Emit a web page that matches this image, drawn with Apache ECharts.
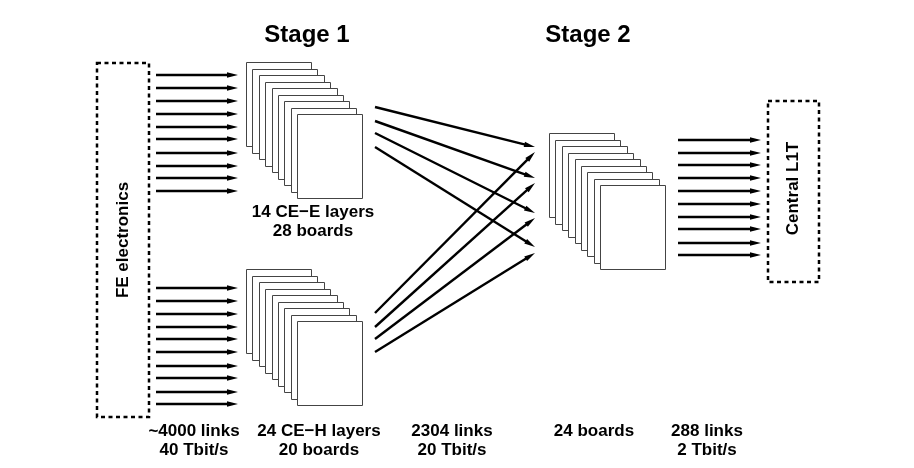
<!DOCTYPE html>
<html>
<head>
<meta charset="utf-8">
<script src="https://cdn.jsdelivr.net/npm/echarts@6/dist/echarts.min.js"></script>
<style>
  html, body { margin: 0; padding: 0; background: #fff; }
  #chart { width: 914px; height: 468px; }
</style>
</head>
<body>
<div id="chart"></div>
<script>
// diagram units: x 0..914 left to right, y 0..468 top to bottom
const feArrowX = [156, 238];
const feArrowY = [75, 88, 101, 114, 127, 139, 153, 166, 178, 191,
                  288, 301, 314, 327, 339, 352, 366, 378, 392, 404];
const l1tArrowX = [678, 761];
const l1tArrowY = [140, 153, 165, 178, 191, 204, 217, 229, 243, 255];

// stage 1 -> stage 2 links
const crossFrom = [[375, 107], [375, 121], [375, 133], [375, 147],
                   [375, 313], [375, 327], [375, 339], [375, 352]];
const crossTo = [[535, 147], [535, 178], [535, 213], [535, 247],
                 [535, 152], [535, 183], [535, 218], [535, 253]];

// board stacks: top-left corner of the rearmost board
const stackCorners = [[246, 62], [246, 269], [549, 133]];
const boardsPerStack = [9, 9, 9];

// dashed boxes: x1, y1, x2, y2
const boxes = [[97, 63, 149, 417], [768, 101, 819, 282]];
const boxNames = ['FE electronics', 'Central L1T'];

const titles = ['Stage 1', 'Stage 2'];
const titlePos = [[307, 35], [588, 35]];

const captions = ['14 CE\u2212E layers\n28 boards', '~4000 links\n40 Tbit/s',
                  '24 CE\u2212H layers\n20 boards', '2304 links\n20 Tbit/s',
                  '24 boards\n ', '288 links\n2 Tbit/s'];
const captionPos = [[313, 222], [194, 441], [319, 441], [452, 441], [594, 441], [707, 441]];

const FONT = '"Liberation Sans", Arial, Helvetica, sans-serif';

const arrows = [];
feArrowY.forEach(y => arrows.push([feArrowX[0], y, feArrowX[1], y]));
l1tArrowY.forEach(y => arrows.push([l1tArrowX[0], y, l1tArrowX[1], y]));
crossFrom.forEach((p, i) => arrows.push([p[0], p[1], crossTo[i][0], crossTo[i][1]]));

function renderArrow(params, api) {
  const a = api.coord([api.value(0), api.value(1)]);
  const b = api.coord([api.value(2), api.value(3)]);
  const ang = Math.atan2(b[1] - a[1], b[0] - a[0]);
  const len = 11, half = 2.7;
  const bx = b[0] - len * Math.cos(ang), by = b[1] - len * Math.sin(ang);
  const nx = -Math.sin(ang) * half, ny = Math.cos(ang) * half;
  return {
    type: 'group',
    children: [
      { type: 'line', shape: { x1: a[0], y1: a[1], x2: bx + Math.cos(ang), y2: by + Math.sin(ang) },
        style: { stroke: '#000', lineWidth: 2.4 } },
      { type: 'polygon', shape: { points: [[b[0], b[1]], [bx + nx, by + ny], [bx - nx, by - ny]] },
        style: { fill: '#000' } }
    ]
  };
}

function renderStack(params, api) {
  const n = api.value(2);
  const p0 = api.coord([api.value(0), api.value(1)]);
  const p1 = api.coord([api.value(0) + 65, api.value(1) + 84]);
  const w = p1[0] - p0[0], h = p1[1] - p0[1];
  const children = [];
  for (let i = 0; i < n; i++) {
    children.push({
      type: 'rect',
      shape: { x: Math.round(p0[0] + i * 6.4) + 0.5, y: Math.round(p0[1] + i * 6.5) + 0.5, width: w, height: h },
      style: { fill: '#fff', stroke: '#444', lineWidth: 1 }
    });
  }
  return { type: 'group', children: children };
}

function renderBox(params, api) {
  const p0 = api.coord([api.value(0), api.value(1)]);
  const p1 = api.coord([api.value(2), api.value(3)]);
  return {
    type: 'group',
    children: [
      { type: 'rect', shape: { x: p0[0], y: p0[1], width: p1[0] - p0[0], height: p1[1] - p0[1] },
        style: { fill: 'transparent', stroke: '#000', lineWidth: 2.5, lineDash: [4, 3.5] } },
      { type: 'text', x: (p0[0] + p1[0]) / 2, y: (p0[1] + p1[1]) / 2 + (params.dataIndex === 0 ? 0 : -3),
        rotation: Math.PI / 2,
        style: { text: boxNames[params.dataIndex], fill: '#000', fontSize: 17, fontWeight: 'bold',
                 fontFamily: FONT, align: 'center', verticalAlign: 'middle' } }
    ]
  };
}

function textRenderer(texts, size, lh) {
  return function (params, api) {
    const p = api.coord([api.value(0), api.value(1)]);
    return {
      type: 'text', x: p[0], y: p[1],
      style: { text: texts[params.dataIndex], fill: '#000', fontSize: size, fontWeight: 'bold',
               fontFamily: FONT, align: 'center', verticalAlign: 'middle', lineHeight: lh }
    };
  };
}

const chart = echarts.init(document.getElementById('chart'));
chart.setOption({
  animation: false,
  backgroundColor: '#fff',
  grid: { left: 0, right: 0, top: 0, bottom: 0 },
  xAxis: { type: 'value', min: 0, max: 914, show: false },
  yAxis: { type: 'value', min: 0, max: 468, inverse: true, show: false },
  series: [
    { type: 'custom', name: 'boxes', clip: false, renderItem: renderBox, data: boxes,
      encode: { x: [0, 2], y: [1, 3] } },
    { type: 'custom', name: 'boards', clip: false, renderItem: renderStack,
      data: stackCorners.map((c, i) => [c[0], c[1], boardsPerStack[i]]),
      encode: { x: 0, y: 1 } },
    { type: 'custom', name: 'links', clip: false, renderItem: renderArrow, data: arrows,
      encode: { x: [0, 2], y: [1, 3] } },
    { type: 'custom', name: 'titles', clip: false, renderItem: textRenderer(titles, 24, 28),
      data: titlePos, encode: { x: 0, y: 1 } },
    { type: 'custom', name: 'captions', clip: false, renderItem: textRenderer(captions, 17, 18.5),
      data: captionPos, encode: { x: 0, y: 1 } }
  ]
});
window.addEventListener('resize', () => chart.resize());
</script>
</body>
</html>
